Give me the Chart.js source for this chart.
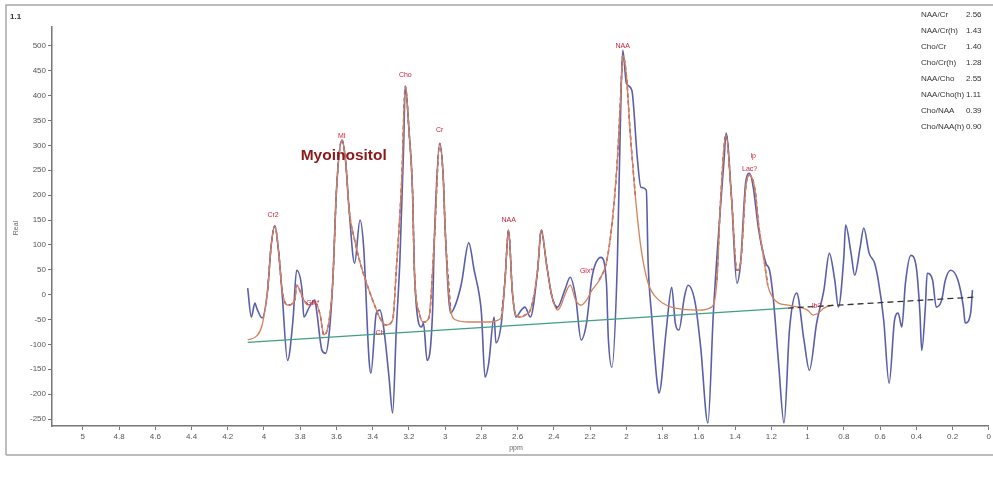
<!DOCTYPE html>
<html>
<head>
<meta charset="utf-8">
<script src="https://cdn.jsdelivr.net/npm/chart.js@4.4.0/dist/chart.umd.min.js"></script>
<style>
  html, body { margin: 0; padding: 0; background: #fff; }
  #wrap { width: 993px; height: 484px; position: relative; }
</style>
</head>
<body>
<div id="wrap"><canvas id="espectro" width="993" height="484"></canvas></div>
<script>
// espectro medido (azul)
const specPpm = [4.09,4.07,4.05,4.04,4.01,3.98,3.96,3.94,3.92,3.90,3.87,3.84,3.82,3.79,3.78,3.75,3.72,3.71,3.68,3.66,3.64,3.62,3.60,3.57,3.55,3.53,3.50,3.47,3.45,3.42,3.41,3.38,3.36,3.34,3.31,3.29,3.27,3.25,3.23,3.22,3.20,3.18,3.17,3.15,3.13,3.12,3.10,3.07,3.06,3.03,3.01,3.00,2.97,2.94,2.91,2.87,2.84,2.81,2.80,2.78,2.76,2.73,2.72,2.69,2.67,2.65,2.63,2.61,2.58,2.56,2.53,2.49,2.47,2.44,2.41,2.38,2.34,2.31,2.28,2.25,2.22,2.19,2.14,2.11,2.10,2.08,2.05,2.03,2.02,2.00,1.97,1.94,1.92,1.89,1.88,1.86,1.83,1.82,1.78,1.75,1.73,1.71,1.68,1.66,1.62,1.59,1.55,1.52,1.49,1.46,1.45,1.42,1.39,1.37,1.34,1.32,1.30,1.27,1.23,1.21,1.19,1.16,1.13,1.10,1.06,1.02,0.99,0.95,0.91,0.88,0.85,0.83,0.80,0.79,0.76,0.74,0.71,0.69,0.66,0.63,0.61,0.58,0.55,0.52,0.50,0.48,0.46,0.43,0.40,0.38,0.37,0.35,0.34,0.31,0.29,0.26,0.24,0.21,0.17,0.14,0.13,0.10,0.09];
const specReal = [13,-45,-17,-27,-47,9,100,138,89,3,-132,-51,49,9,-45,-25,-11,-31,-112,-118,-77,29,210,311,270,170,63,150,95,-132,-158,-37,-31,-65,-166,-238,-71,69,290,419,331,204,49,-51,-65,-57,-132,-37,110,304,230,130,-37,-17,23,104,49,-5,-37,-166,-138,-45,-97,-57,29,130,9,-45,-31,-25,-45,49,130,59,-5,-25,9,35,-5,-91,-57,35,75,23,-85,-146,63,397,491,425,411,276,216,210,63,-45,-178,-198,-71,15,-57,-71,-5,19,-17,-106,-258,-37,130,276,325,196,23,63,230,244,216,130,63,49,-5,-138,-258,-71,3,-91,-152,-57,9,83,29,-25,75,140,83,39,95,134,83,63,29,-51,-178,-51,-37,-65,23,79,55,-37,-112,-25,43,29,-25,-11,29,49,29,-25,-57,-37,9];

// curva ajustada (laranja)
const fitPpm = [4.09,4.04,4.01,3.98,3.96,3.94,3.92,3.90,3.87,3.83,3.82,3.78,3.75,3.72,3.69,3.67,3.64,3.62,3.60,3.57,3.55,3.53,3.50,3.47,3.43,3.39,3.36,3.33,3.29,3.27,3.24,3.22,3.20,3.18,3.17,3.14,3.12,3.09,3.06,3.03,3.01,3.00,2.97,2.94,2.87,2.76,2.69,2.67,2.65,2.63,2.61,2.58,2.56,2.53,2.49,2.47,2.44,2.41,2.38,2.36,2.34,2.31,2.28,2.25,2.22,2.19,2.15,2.11,2.08,2.05,2.03,2.02,2.00,1.98,1.95,1.92,1.88,1.82,1.75,1.60,1.53,1.50,1.48,1.45,1.42,1.39,1.37,1.34,1.32,1.29,1.27,1.24,1.22,1.19,1.16,1.11,1.05,1.00,0.97,0.94,0.91,0.86];
const fitReal = [-91,-83,-61,9,100,138,89,9,-21,-11,19,-11,-21,-15,-41,-81,-51,29,210,311,270,170,110,65,19,-21,-47,-61,-51,49,230,419,331,204,49,-41,-55,-47,110,304,230,130,-31,-51,-55,-55,-47,29,130,9,-41,-45,-41,-31,49,130,59,-5,-31,-21,-1,19,-11,-21,-11,9,29,65,140,270,411,481,441,331,196,95,23,-11,-25,-31,-25,29,190,321,196,49,63,220,240,210,140,69,19,-7,-17,-21,-25,-31,-41,-37,-27,-21];

// trechos com o tracejado escuro (faixas de ppm)
const dashFrom = [3.99, 2.69, 2.16, 1.52];
const dashTo = [2.96, 2.37, 1.93, 1.20];

// linha de base
const basePpm = [4.09, 1.11];
const baseReal = [-96, -27];
const tailPpm = [1.11, 0.08];
const tailReal = [-27, -5];

// rótulos dos picos
const peakNames = ['Cr2','Glx*','MI','Cho','Ch','Cr','NAA','Glx*','NAA','lp','Lac?','lb?'];
const peakPpm = [3.95, 3.73, 3.57, 3.22, 3.36, 3.03, 2.65, 2.22, 2.02, 1.30, 1.32, 0.95];
const peakReal = [160, -17, 318, 442, -77, 330, 150, 48, 500, 278, 252, -23];

// tabela de razões
const ratioNames = ['NAA/Cr','NAA/Cr(h)','Cho/Cr','Cho/Cr(h)','NAA/Cho','NAA/Cho(h)','Cho/NAA','Cho/NAA(h)'];
const ratioValues = ['2.56','1.43','1.40','1.28','2.55','1.11','0.39','0.90'];

// eixos
const xTicks = [5,4.8,4.6,4.4,4.2,4,3.8,3.6,3.4,3.2,3,2.8,2.6,2.4,2.2,2,1.8,1.6,1.4,1.2,1,0.8,0.6,0.4,0.2,0];
const yTicks = [500,450,400,350,300,250,200,150,100,50,0,-50,-100,-150,-200,-250];

function pontos(xs, ys) {
    return xs.map((x, i) => ({ x: x, y: ys[i] }));
}

// pontos da curva ajustada só dentro das faixas tracejadas
function trechosTracejados() {
    const out = [];
    fitPpm.forEach((x, i) => {
        const dentro = dashFrom.some((a, k) => x <= a && x >= dashTo[k]);
        out.push({ x: x, y: dentro ? fitReal[i] : null });
    });
    return out;
}

const decoracao = {
    id: 'decoracao',
    beforeDraw(chart) {
        const c = chart.ctx;
        c.save();
        c.strokeStyle = '#a8a8a8';
        c.lineWidth = 1.5;
        c.beginPath();
        c.moveTo(6, 455); c.lineTo(6, 5); c.lineTo(993, 5);
        c.moveTo(6, 455); c.lineTo(993, 455);
        c.stroke();
        c.restore();
    },
    afterDatasetsDraw(chart) {
        const c = chart.ctx;
        const xs = chart.scales.x, ys = chart.scales.y;
        c.save();
        c.textAlign = 'center';
        c.textBaseline = 'middle';
        c.font = '7px "Liberation Sans", Arial, sans-serif';
        c.fillStyle = '#d0203a';
        peakNames.forEach((n, i) => {
            c.fillText(n, xs.getPixelForValue(peakPpm[i]), ys.getPixelForValue(peakReal[i]));
        });
        c.font = 'bold 15.5px "Liberation Sans", Arial, sans-serif';
        c.fillStyle = '#8b1a1a';
        c.fillText('Myoinositol', xs.getPixelForValue(3.56), ys.getPixelForValue(280));

        // textos fixos
        c.fillStyle = '#333';
        c.font = 'bold 8px "Liberation Sans", Arial, sans-serif';
        c.textAlign = 'left';
        c.fillText('1.1', 10, 17);
        c.font = '8px "Liberation Sans", Arial, sans-serif';
        ratioNames.forEach((n, i) => {
            c.fillText(n, 921, 15 + i * 16);
            c.fillText(ratioValues[i], 966, 15 + i * 16);
        });
        c.fillStyle = '#666';
        c.font = '7px "Liberation Sans", Arial, sans-serif';
        c.textAlign = 'center';
        c.fillText('ppm', 516, 448);
        c.translate(16, 228);
        c.rotate(-Math.PI / 2);
        c.fillText('Real', 0, 0);
        c.restore();
    }
};

const ctx = document.getElementById('espectro').getContext('2d');
new Chart(ctx, {
    type: 'scatter',
    data: {
        datasets: [
            { data: pontos(basePpm, baseReal), showLine: true, borderColor: '#3f9e84', borderWidth: 1.3, pointRadius: 0 },
            { data: pontos(tailPpm, tailReal), showLine: true, borderColor: '#333', borderWidth: 1.3, borderDash: [6, 4], pointRadius: 0 },
            { data: pontos(fitPpm, fitReal), showLine: true, borderColor: '#d4845a', borderWidth: 1.3, pointRadius: 0, cubicInterpolationMode: 'monotone' },
            { data: pontos(specPpm, specReal), showLine: true, borderColor: '#5b5ea8', borderWidth: 1.6, pointRadius: 0, cubicInterpolationMode: 'monotone' },
            { data: trechosTracejados(), showLine: true, spanGaps: false, borderColor: '#8e2a5e', borderWidth: 1.5, borderDash: [4, 3], pointRadius: 0, cubicInterpolationMode: 'monotone' }
        ]
    },
    options: {
        responsive: false,
        animation: false,
        events: [],
        layout: { padding: { left: 0, top: 27, right: 3, bottom: 0 } },
        plugins: { legend: { display: false }, tooltip: { enabled: false } },
        scales: {
            x: {
                type: 'linear',
                reverse: true,
                min: 0,
                max: 5.17,
                afterBuildTicks: s => { s.ticks = xTicks.map(v => ({ value: v })); },
                afterFit: s => { s.height = 58; },
                grid: { drawOnChartArea: false, tickLength: 4, color: '#777' },
                border: { color: '#777', width: 1.5 },
                ticks: { color: '#555', padding: 2, maxRotation: 0, autoSkip: false, callback: v => String(v), font: { size: 8, family: '"Liberation Sans", Arial' } }
            },
            y: {
                min: -264,
                max: 538,
                afterBuildTicks: s => { s.ticks = yTicks.map(v => ({ value: v })); },
                afterFit: s => { s.width = 52; },
                grid: { drawOnChartArea: false, tickLength: 4, color: '#777' },
                border: { color: '#777', width: 1.5 },
                ticks: { color: '#555', padding: 2, autoSkip: false, callback: v => String(v), font: { size: 8, family: '"Liberation Sans", Arial' } }
            }
        }
    },
    plugins: [decoracao]
});
</script>
</body>
</html>
